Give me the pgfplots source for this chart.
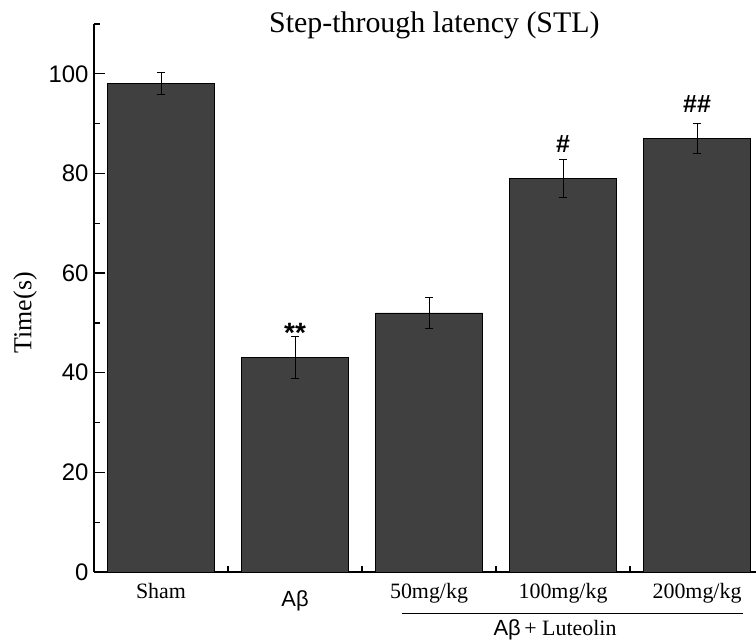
\documentclass[border=0pt]{standalone}
\usepackage{fontspec}
\setmainfont{Liberation Serif}
\setsansfont{Liberation Sans}
\usepackage{pgfplots}
\pgfplotsset{compat=1.18}
\definecolor{barfill}{RGB}{64,64,64}
\begin{document}
\begin{tikzpicture}
\path[use as bounding box] (-94bp,-69bp) rectangle (662bp,572bp);
\begin{axis}[
  at={(0,0)}, anchor=south west,
  scale only axis, width=662bp, height=548bp,
  xmin=-0.5, xmax=4.44, ymin=0, ymax=110,
  clip=false,
  axis x line*=bottom, axis y line*=left,
  axis line style={line width=1.6bp, black},
  tick align=inside,
  major tick length=11bp, minor tick length=6bp,
  every tick/.style={line width=1.3bp, black},
  ytick={0,20,...,100}, minor ytick={10,30,...,110},
  xtick={0,...,4}, minor xtick={0.5,1.5,2.5,3.5},
  xticklabels={Sham, {\raisebox{-7bp}[\height][0pt]{\sffamily Aβ}}, 50mg/kg, 100mg/kg, 200mg/kg},
  yticklabel={\sffamily\fontsize{24}{26}\selectfont\pgfmathprintnumber[assume math mode=true]{\tick}},
  yticklabel style={xshift=-2bp},
  xticklabel style={font=\fontsize{22}{26}\selectfont, yshift=-8bp},
  ylabel={Time(s)},
  ylabel style={font=\fontsize{26}{30}\selectfont, at={(axis description cs:-0.104,0.473)}, anchor=center},
]
\addplot[ybar, bar width=0.8, fill=barfill, draw=black, line width=0.8bp,
  error bars/.cd, y dir=both, y explicit,
  error bar style={black, line width=0.9bp},
  error mark options={rotate=90, mark size=4bp, line width=0.9bp, black}]
  coordinates {
    (0,98) +- (0,2.2)
    (1,43) +- (0,4.2)
    (2,52) +- (0,3.2)
    (3,79) +- (0,3.8)
    (4,87) +- (0,3.0)
  };
\node[font=\sffamily\bfseries\fontsize{28}{28}\selectfont, anchor=base] at (axis cs:1,46.0) {**};
\node[font=\sffamily\bfseries\fontsize{25}{25}\selectfont, anchor=base] at (axis cs:3,84.3) {\#};
\node[font=\sffamily\bfseries\fontsize{25}{25}\selectfont, anchor=base] at (axis cs:4,92.2) {\#\#};
\node[font=\fontsize{30}{34}\selectfont, anchor=base] at (axis cs:2.04,108.2) {Step-through latency (STL)};
\draw[line width=1bp, black] (axis cs:1.80,-8.23) -- (axis cs:4.34,-8.23);
\node[font=\fontsize{22}{26}\selectfont, anchor=base] at (axis cs:2.94,-12.65) {{\sffamily Aβ}\,+ Luteolin};
\end{axis}
\end{tikzpicture}
\end{document}
